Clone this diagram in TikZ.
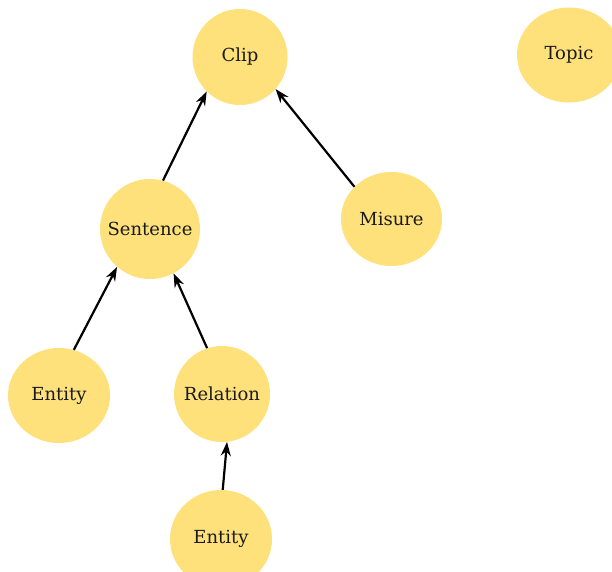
\documentclass[tikz,border=0pt]{standalone}
\usepackage{fontspec}
\setmainfont{DejaVu Serif}
\usetikzlibrary{shapes.geometric,arrows.meta}
\definecolor{bubble}{HTML}{FEE17A}
\definecolor{ink}{HTML}{1A1A1A}
\begin{document}
\begin{tikzpicture}[x=1pt,y=-1pt,
  concept/.style={ellipse,fill=bubble,draw=none,inner sep=0pt,
    minimum width=95pt,minimum height=96pt,
    label={[text=ink,font=\fontsize{18}{20}\selectfont]center:#1}},
  link/.style={-{Stealth[length=14pt,width=10pt]},line width=2.2pt}]
\useasboundingbox (0,0) rectangle (612,571);
\node[concept=Clip] (clip) at (240,57) {};
\node[concept=Topic,minimum width=104pt,minimum height=95pt] (topic) at (569,55) {};
\node[concept=Sentence,minimum width=100pt,minimum height=100pt] (sent) at (150,229) {};
\node[concept=Misure,minimum width=101pt,minimum height=94pt] (mis) at (391.5,219) {};
\node[concept=Entity,minimum width=102pt,minimum height=95pt] (ent1) at (59,395.5) {};
\node[concept=Relation,minimum width=96pt] (rel) at (222,394) {};
\node[concept=Entity,minimum width=102pt,minimum height=98pt] (ent2) at (221,539) {};
\draw[link] (sent.75.4) -- (clip.226);
\draw[link] (mis.139.4) -- (clip.318.5);
\draw[link] (ent1.72.5) -- (sent.229);
\draw[link] (rel.108.4) -- (sent.298);
\draw[link] (ent2.88.8) -- (rel.276);
\end{tikzpicture}
\end{document}
